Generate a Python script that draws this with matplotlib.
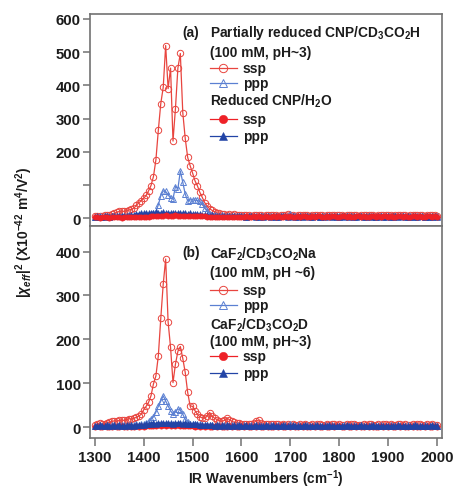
import numpy as np
import matplotlib
matplotlib.use("Agg")
import matplotlib.pyplot as plt
from matplotlib.lines import Line2D

plt.rcParams['font.family'] = ['Liberation Sans', 'DejaVu Sans']
plt.rcParams['font.weight'] = 'bold'
plt.rcParams['mathtext.fontset'] = 'custom'
plt.rcParams['mathtext.rm'] = 'Liberation Sans:bold'
plt.rcParams['mathtext.it'] = 'Liberation Sans:bold:italic'
plt.rcParams['mathtext.bf'] = 'Liberation Sans:bold'

# IR wavenumber grid (cm^-1)
wavenumber = np.arange(1300, 2001, 5)

# (a) partially reduced CNP / CD3CO2H, 100 mM, pH~3
a_ssp_acid = [
    5, 6, 7, 6, 8, 9, 10, 12, 14, 17, 20, 21, 20, 22, 24, 26, 30, 38, 46, 52,
    60, 68, 82, 98, 125, 175, 265, 345, 394, 520, 390, 452, 232, 330, 452, 496, 318, 240, 183, 158,
    136, 112, 97, 77, 62, 46, 36, 28, 23, 19, 16, 14, 12, 11, 10, 12, 9, 11, 10, 9,
    9, 8, 10, 9, 7, 8, 9, 10, 8, 7, 9, 8, 10, 9, 8, 7, 9, 8, 10, 11,
    9, 8, 7, 9, 8, 10, 9, 8, 7, 8, 9, 10, 8, 9, 7, 8, 9, 8, 10, 9,
    8, 9, 7, 8, 10, 9, 8, 9, 7, 8, 9, 8, 10, 8, 9, 7, 8, 9, 8, 10,
    9, 8, 7, 9, 8, 10, 8, 9, 7, 8, 9, 8, 10, 9, 8, 7, 9, 8, 9, 8, 7]
a_ppp_acid = [
    4, 3, 5, 4, 6, 5, 4, 6, 5, 7, 6, 5, 7, 6, 8, 7, 6, 8, 9, 8,
    8, 9, 10, 12, 15, 19, 40, 67, 82, 80, 70, 60, 58, 95, 88, 142, 108, 72, 52, 55,
    55, 54, 53, 50, 42, 30, 20, 13, 10, 8, 7, 6, 8, 7, 6, 5, 7, 6, 5, 6,
    5, 6, 4, 5, 7, 6, 5, 4, 6, 5, 7, 6, 5, 6, 4, 5, 6, 7, 5, 6,
    12, 6, 5, 4, 6, 5, 7, 5, 4, 6, 5, 6, 4, 5, 6, 5, 7, 6, 5, 4,
    5, 6, 4, 5, 6, 5, 4, 6, 5, 7, 5, 4, 6, 5, 6, 4, 5, 6, 5, 4,
    6, 5, 4, 5, 6, 5, 7, 5, 4, 6, 5, 4, 5, 6, 5, 4, 6, 5, 4, 5, 6]

# (a) reduced CNP / H2O
a_ssp_water = [
    2, 3, 1, 2, 3, 2, 1, 3, 2, 2, 3, 1, 2, 3, 2, 2, 3, 2, 3, 2,
    3, 3, 4, 5, 5, 6, 7, 6, 7, 8, 7, 6, 7, 8, 7, 6, 7, 6, 7, 6,
    6, 7, 6, 5, 6, 5, 4, 4, 3, 3, 2, 3, 2, 3, 2, 3, 2, 2, 3, 2,
    4, 3, 5, 4, 3, 5, 4, 6, 3, 4, 5, 4, 3, 5, 4, 6, 4, 3, 5, 4,
    5, 4, 3, 5, 4, 6, 5, 4, 3, 5, 4, 5, 6, 4, 3, 5, 4, 6, 5, 4,
    4, 5, 6, 4, 5, 3, 4, 5, 6, 4, 5, 4, 3, 5, 6, 4, 5, 4, 6, 5,
    4, 5, 3, 4, 6, 5, 4, 5, 3, 4, 5, 6, 4, 5, 4, 3, 5, 6, 4, 5, 4]
a_ppp_water = [
    4, 5, 3, 4, 5, 6, 4, 5, 6, 5, 7, 6, 5, 7, 6, 8, 9, 11, 13, 14,
    14, 15, 14, 16, 15, 17, 16, 15, 17, 16, 15, 16, 14, 16, 15, 14, 15, 14, 13, 14,
    13, 12, 13, 11, 10, 9, 8, 7, 8, 6, 7, 6, 5, 6, 7, 5, 6, 5, 6, 7,
    5, 6, 4, 5, 6, 5, 4, 6, 5, 4, 6, 5, 4, 5, 6, 4, 5, 6, 5, 4,
    6, 5, 4, 5, 6, 4, 5, 6, 5, 4, 5, 6, 4, 5, 4, 6, 5, 4, 6, 5,
    4, 5, 6, 5, 4, 6, 5, 4, 5, 6, 4, 5, 6, 4, 5, 4, 6, 5, 4, 5,
    5, 4, 6, 5, 4, 5, 6, 4, 5, 4, 6, 5, 4, 5, 6, 4, 5, 4, 6, 5, 4]

# (b) CaF2 / CD3CO2Na, 100 mM, pH ~6
b_ssp_na = [
    5, 8, 10, 8, 9, 11, 12, 14, 15, 14, 16, 17, 16, 18, 20, 19, 21, 23, 26, 30,
    40, 48, 57, 72, 99, 117, 163, 248, 326, 383, 240, 182, 102, 144, 173, 184, 157, 125, 80, 49,
    48, 38, 30, 24, 22, 21, 26, 34, 26, 21, 18, 15, 14, 16, 22, 18, 14, 12, 11, 10,
    9, 8, 9, 8, 9, 11, 15, 17, 11, 9, 8, 7, 8, 7, 8, 7, 6, 7, 6, 7,
    6, 7, 5, 6, 8, 6, 7, 5, 6, 7, 6, 8, 7, 6, 5, 7, 6, 7, 8, 6,
    7, 6, 5, 7, 6, 8, 7, 6, 5, 6, 7, 6, 8, 7, 6, 5, 7, 6, 7, 8,
    6, 7, 5, 6, 7, 8, 6, 7, 5, 6, 7, 6, 8, 7, 5, 6, 7, 6, 7, 6, 5]
b_ppp_na = [
    3, 4, 5, 4, 3, 5, 4, 6, 5, 4, 5, 6, 5, 4, 6, 5, 6, 7, 6, 7,
    8, 11, 15, 19, 24, 35, 48, 60, 72, 60, 49, 38, 30, 36, 42, 40, 30, 19, 12, 9,
    8, 7, 6, 7, 5, 6, 5, 6, 5, 4, 6, 5, 4, 5, 6, 4, 5, 4, 5, 4,
    4, 5, 3, 4, 5, 4, 6, 5, 4, 3, 5, 4, 5, 3, 4, 5, 4, 3, 5, 4,
    9, 4, 3, 5, 4, 3, 4, 5, 3, 4, 5, 4, 3, 4, 5, 3, 4, 5, 4, 3,
    4, 3, 5, 4, 3, 4, 5, 4, 3, 5, 4, 3, 4, 5, 4, 3, 4, 5, 3, 4,
    4, 5, 3, 4, 5, 4, 3, 4, 5, 4, 3, 5, 4, 3, 4, 5, 4, 3, 4, 5, 4]

# (b) CaF2 / CD3CO2D, 100 mM, pH~3
b_ssp_d = [
    2, 3, 1, 2, 3, 2, 1, 2, 3, 2, 1, 3, 2, 2, 3, 1, 2, 3, 2, 3,
    2, 3, 3, 4, 3, 4, 5, 4, 5, 4, 5, 4, 5, 4, 5, 4, 4, 3, 4, 3,
    3, 2, 3, 2, 3, 2, 3, 2, 2, 3, 2, 3, 2, 1, 2, 3, 2, 3, 2, 2,
    3, 2, 3, 2, 1, 3, 2, 3, 2, 2, 3, 2, 1, 2, 3, 2, 3, 2, 2, 3,
    2, 3, 2, 1, 3, 2, 3, 2, 2, 3, 2, 3, 1, 2, 3, 2, 2, 3, 2, 3,
    3, 2, 2, 3, 2, 1, 3, 2, 3, 2, 2, 3, 2, 3, 2, 1, 2, 3, 2, 3,
    2, 3, 2, 2, 3, 2, 3, 1, 2, 3, 2, 3, 2, 2, 3, 2, 3, 2, 2, 3, 2]
b_ppp_d = [
    3, 4, 5, 4, 3, 5, 4, 3, 5, 4, 5, 4, 3, 5, 4, 5, 4, 5, 6, 5,
    6, 7, 8, 9, 10, 9, 11, 10, 11, 10, 11, 10, 9, 10, 11, 10, 9, 10, 9, 8,
    8, 7, 7, 6, 6, 5, 6, 5, 5, 4, 5, 4, 5, 4, 5, 4, 3, 5, 4, 5,
    4, 3, 5, 4, 3, 4, 5, 4, 3, 4, 5, 3, 4, 5, 4, 3, 4, 5, 4, 3,
    4, 5, 3, 4, 3, 4, 5, 3, 4, 3, 4, 5, 4, 3, 4, 3, 5, 4, 3, 4,
    3, 4, 3, 5, 4, 3, 4, 3, 4, 5, 3, 4, 3, 4, 5, 3, 4, 3, 4, 3,
    4, 3, 4, 3, 5, 4, 3, 4, 3, 4, 3, 5, 4, 3, 4, 3, 4, 3, 5, 4, 3]

x_ticks = [1300, 1400, 1500, 1600, 1700, 1800, 1900, 2000]
a_yticks = [0, 100, 200, 300, 400, 500, 600]
a_yticklabels = ['0', '', '200', '300', '400', '500', '600']
b_yticks = [0, 100, 200, 300, 400]

RED_OPEN = '#e8453f'
BLUE_OPEN = '#5b80d2'
RED_FULL = '#ee2127'
BLUE_FULL = '#2244a6'
SPINE = '#727272'
TXT = '#1c1c1c'

styles = {
    'ssp_open': dict(color=RED_OPEN, marker='o', mfc='none', ms=4.6, mew=0.7, lw=0.9),
    'ppp_open': dict(color=BLUE_OPEN, marker='^', mfc='none', ms=4.6, mew=0.7, lw=0.9),
    'ssp_full': dict(color=RED_FULL, marker='o', ms=3.8, mew=0.4, lw=0.9),
    'ppp_full': dict(color=BLUE_FULL, marker='^', ms=4.0, mew=0.4, lw=0.9),
}

fig = plt.figure(figsize=(4.54, 4.89), dpi=100)
ax_a = fig.add_axes([0.198, 0.5358, 0.7753, 0.4335])
ax_b = fig.add_axes([0.198, 0.1022, 0.7753, 0.4336])

ax_a.plot(wavenumber, a_ssp_acid, **styles['ssp_open'])
ax_a.plot(wavenumber, a_ppp_acid, **styles['ppp_open'])
ax_a.plot(wavenumber, a_ppp_water, **styles['ppp_full'])
ax_a.plot(wavenumber, a_ssp_water, **styles['ssp_full'])

ax_b.plot(wavenumber, b_ssp_na, **styles['ssp_open'])
ax_b.plot(wavenumber, b_ppp_na, **styles['ppp_open'])
ax_b.plot(wavenumber, b_ssp_d, **styles['ssp_full'])
ax_b.plot(wavenumber, b_ppp_d, **styles['ppp_full'])

for ax in (ax_a, ax_b):
    ax.set_xlim(1290, 2010)
    ax.set_xticks(x_ticks)
    for sp in ax.spines.values():
        sp.set_color(SPINE)
        sp.set_linewidth(1.2)
    ax.tick_params(direction='out', color=SPINE, width=1.1, length=5,
                   labelsize=10.8, labelcolor=TXT)
    ax.tick_params(axis='y', pad=1.5)

ax_a.set_ylim(-24, 615)
ax_a.set_yticks(a_yticks)
ax_a.set_yticklabels(a_yticklabels)
ax_a.tick_params(axis='x', labelbottom=False, length=6)

ax_b.set_ylim(-24, 458)
ax_b.set_yticks(b_yticks)
ax_b.tick_params(axis='x', length=6, pad=2.5)

for ax in (ax_a, ax_b):
    for lab in ax.get_xticklabels() + ax.get_yticklabels():
        lab.set_fontweight('bold')

KEY_FS = 9.9


def key_entry(ax, y, style, label):
    kw = dict(style)
    ax.add_line(Line2D([0.341, 0.418], [y, y], color=kw['color'], lw=kw['lw'],
                       transform=ax.transAxes))
    mk = dict(kw)
    mk.pop('lw')
    mk['ms'] = 6.0
    ax.add_line(Line2D([0.379], [y], linestyle='none', transform=ax.transAxes, **mk))
    ax.text(0.435, y, label, transform=ax.transAxes, ha='left', va='center',
            fontsize=KEY_FS, fontweight='bold', color=TXT)


def header(ax, y, label):
    ax.text(0.341, y, label, transform=ax.transAxes, ha='left', va='center',
            fontsize=KEY_FS, fontweight='bold', color=TXT)


ax_a.text(0.262, 0.915, '(a)', transform=ax_a.transAxes, ha='left', va='center',
          fontsize=KEY_FS, fontweight='bold', color=TXT)
header(ax_a, 0.915, r'Partially reduced CNP/CD$_3$CO$_2$H')
header(ax_a, 0.821, '(100 mM, pH~3)')
key_entry(ax_a, 0.745, styles['ssp_open'], 'ssp')
key_entry(ax_a, 0.673, styles['ppp_open'], 'ppp')
header(ax_a, 0.594, r'Reduced CNP/H$_2$O')
key_entry(ax_a, 0.505, styles['ssp_full'], 'ssp')
key_entry(ax_a, 0.426, styles['ppp_full'], 'ppp')

ax_b.text(0.262, 0.877, '(b)', transform=ax_b.transAxes, ha='left', va='center',
          fontsize=KEY_FS, fontweight='bold', color=TXT)
header(ax_b, 0.873, r'CaF$_2$/CD$_3$CO$_2$Na')
header(ax_b, 0.782, '(100 mM, pH ~6)')
key_entry(ax_b, 0.700, styles['ssp_open'], 'ssp')
key_entry(ax_b, 0.627, styles['ppp_open'], 'ppp')
header(ax_b, 0.538, r'CaF$_2$/CD$_3$CO$_2$D')
header(ax_b, 0.459, '(100 mM, pH~3)')
key_entry(ax_b, 0.385, styles['ssp_full'], 'ssp')
key_entry(ax_b, 0.305, styles['ppp_full'], 'ppp')

fig.text(266 / 454, 1 - 479.5 / 489, r'IR Wavenumbers (cm$^{-1}$)', ha='center', va='center',
         fontsize=9.8, fontweight='bold', color=TXT)
fig.text(24 / 454, 1 - 232 / 489,
         r'$|\chi_{eff}|^2$ (X10$^{-42}$ m$^4$/V$^2$)', rotation=90,
         ha='center', va='center', fontsize=10, fontweight='bold', color=TXT)

fig.savefig('out.png', dpi=100)
